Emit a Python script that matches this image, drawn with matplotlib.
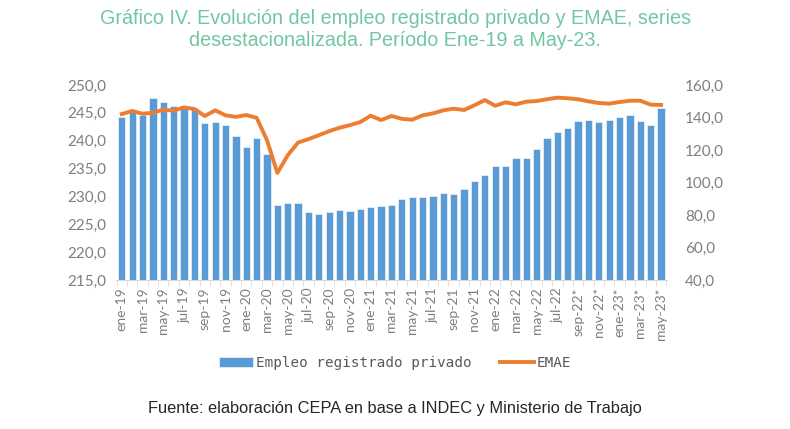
import numpy as np
import matplotlib.pyplot as plt
from matplotlib.ticker import FuncFormatter

# meses ene-19 .. may-23
meses = ['ene', 'feb', 'mar', 'abr', 'may', 'jun', 'jul', 'ago', 'sep', 'oct', 'nov', 'dic']
etiquetas = []
for anio in range(19, 24):
    for m in meses:
        etiquetas.append(f"{m}-{anio}")
etiquetas = etiquetas[:53]
# meses provisorios desde sep-22
etiquetas = [e + '*' if i >= 44 else e for i, e in enumerate(etiquetas)]

empleo = [244.2, 245.2, 244.7, 247.7, 247.0, 246.2, 246.3, 245.8, 243.2, 243.3,
          242.9, 240.9, 238.9, 240.4, 237.6, 228.4, 228.8, 228.8, 227.2, 226.8,
          227.2, 227.5, 227.4, 227.8, 228.2, 228.3, 228.4, 229.5, 229.9, 229.9,
          230.0, 230.6, 230.5, 231.4, 232.8, 233.9, 235.4, 235.5, 236.9, 236.9,
          238.6, 240.4, 241.6, 242.3, 243.6, 243.8, 243.3, 243.7, 244.2, 244.7,
          243.5, 242.8, 245.9]

emae = [142.1, 144.0, 142.3, 142.9, 144.8, 144.2, 146.2, 145.2, 140.9, 144.4,
        141.3, 140.4, 141.5, 139.8, 126.0, 105.9, 116.8, 124.6, 126.7, 129.1,
        131.6, 133.7, 135.3, 137.2, 141.1, 138.4, 140.9, 139.2, 138.6, 141.3,
        142.5, 144.4, 145.4, 144.6, 147.5, 150.7, 147.2, 149.3, 148.1, 149.7,
        150.1, 151.2, 152.2, 151.8, 151.2, 149.9, 148.9, 148.5, 149.5, 150.3,
        150.3, 147.9, 147.7]

gris = '#7f7f7f'
x = np.arange(len(empleo))
coma = FuncFormatter(lambda v, p: f"{v:.1f}".replace('.', ','))

fig = plt.figure(figsize=(7.9, 4.29), dpi=100)
ax = fig.add_axes([0.147, 0.347, 0.697, 0.455])
ax2 = ax.twinx()

barras = ax.bar(x, empleo, width=0.7, color='#5B9BD5', edgecolor='white', linewidth=0.4,
                label='Empleo registrado privado', zorder=2)
linea, = ax2.plot(x, emae, color='#ED7D31', lw=2.8, label='EMAE', solid_joinstyle='round')

ax.set_xlim(-0.55, len(x) - 0.45)
ax.set_ylim(215, 250)
ax.set_yticks(np.arange(215, 251, 5))
ax2.set_ylim(40, 160)
ax2.set_yticks(np.arange(40, 161, 20))
ax.yaxis.set_major_formatter(coma)
ax2.yaxis.set_major_formatter(coma)

ax.set_xticks(x[::2])
ax.set_xticklabels(etiquetas[::2], rotation=90, family='Lato')
ax.set_xticks(np.arange(-0.5, len(x), 1), minor=True)
ax.tick_params(axis='x', which='major', length=0, pad=5, labelsize=10, labelcolor=gris)
ax.tick_params(axis='x', which='minor', length=4, color='#d9d9d9')
ax.tick_params(axis='y', length=0, labelsize=11, labelcolor=gris, pad=7)
ax2.tick_params(axis='y', length=0, labelsize=11, labelcolor=gris, pad=13)
for lab in ax.get_yticklabels() + ax2.get_yticklabels():
    lab.set_family('Lato')

for a in (ax, ax2):
    for s in ['top', 'left', 'right']:
        a.spines[s].set_visible(False)
ax.spines['bottom'].set_color('#d9d9d9')
ax2.spines['bottom'].set_visible(False)

fig.suptitle('Gráfico IV. Evolución del empleo registrado privado y EMAE, series\n'
             'desestacionalizada. Período Ene-19 a May-23.',
             x=0.5, y=0.98, fontsize=14.2, color='#72C7A3', linespacing=1.22,
             family='Liberation Sans')

fig.legend([barras, linea], ['Empleo registrado privado', 'EMAE'], loc='center',
           bbox_to_anchor=(0.5, 0.153), ncol=2, frameon=False,
           prop={'family': 'DejaVu Sans Mono', 'size': 10.3}, labelcolor='#595959',
           handlelength=2.4, handletextpad=0.15, columnspacing=2.0)

fig.text(0.5, 0.048, 'Fuente: elaboración CEPA en base a INDEC y Ministerio de Trabajo',
         ha='center', va='center', fontsize=11.8, color='#262626', family='Liberation Sans')

fig.savefig('out.png', dpi=100)
